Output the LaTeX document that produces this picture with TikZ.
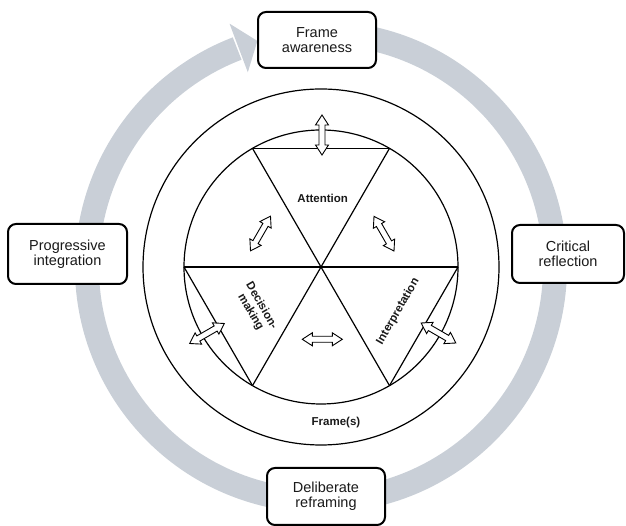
\documentclass[tikz,border=0pt]{standalone}
\usepackage{fontspec}
\setmainfont{Liberation Sans}
\usetikzlibrary{calc}
\definecolor{ringgrey}{HTML}{C9CFD7}
\definecolor{ink}{HTML}{1A1A1A}
\begin{document}
\begin{tikzpicture}[x=1pt,y=1pt,
  box/.style={draw=black, line width=2pt, rounded corners=8pt, fill=white, align=center,
    font=\fontsize{14.5}{15}\selectfont, text=ink, inner sep=0pt},
  lbl/.style={font=\bfseries\fontsize{11.5}{12.5}\selectfont, align=center, inner sep=0pt, text=ink},
  thinline/.style={line width=1.2pt, draw=black},
  dblarrow/.pic={\draw[fill=white, line width=0.9pt, line join=miter]
     (-20,0) -- (-10,6.5) -- (-10,3) -- (10,3) -- (10,6.5) -- (20,0)
     -- (10,-6.5) -- (10,-3) -- (-10,-3) -- (-10,-6.5) -- cycle;}
]
\useasboundingbox (0,0) rectangle (626,526);
\coordinate (C) at (321,259);

% grey cycle arrow
\draw[ringgrey, line width=24pt] ($(C)+(80:234)$) arc[start angle=80, end angle=-249.0, radius=234];
\fill[ringgrey] ($(C)+(110.6:208)$) -- ($(C)+(110.6:260)$) -- ($(C)+(110.6:234)+(20.6:20)$) -- cycle;

% boxes
\node[box, minimum width=118pt, minimum height=56pt] (fa) at (317,486) {Frame\\awareness};
\node[box, minimum width=112pt, minimum height=58pt] (cr) at (568,272) {Critical\\reflection};
\node[box, minimum width=119pt, minimum height=60pt] (pi) at (67.5,272) {Progressive\\integration};
\node[box, minimum width=118pt, minimum height=57pt] (dr) at (326,29.5) {Deliberate\\reframing};

% circles
\draw[thinline] (C) circle[radius=178];
\draw[thinline] (C) circle[radius=137];

% hexagon vertices
\foreach \a in {0,60,120,180,240,300} \coordinate (V\a) at ($(C)+(\a:137)$);
\draw[thinline] (V120) -- (V60);
\draw[thinline] (V120) -- (V300);
\draw[thinline] (V60) -- (V240);
\draw[thinline] (V180) -- (V0);
\draw[thinline] (V180) -- (V240);
\draw[thinline] (V0) -- (V300);

% double arrows
\path (322,391) pic[rotate=90] {dblarrow};
\path (260.5,292.5) pic[rotate=60] {dblarrow};
\path (384,292.3) pic[rotate=-60] {dblarrow};
\path (322.3,186.7) pic {dblarrow};
\path (207,192.5) pic[rotate=30] {dblarrow};
\path (438.5,193) pic[rotate=-30] {dblarrow};

% labels
\node[lbl] (att) at (322.7,328) {Attention};
\node[lbl, rotate=-60] (dec) at (256,217) {Decision-\\making};
\node[lbl, rotate=60] (int) at (398,214.5) {Interpretation};
\node[lbl] (frs) at (336,103) {Frame(s)};
\end{tikzpicture}
\end{document}
